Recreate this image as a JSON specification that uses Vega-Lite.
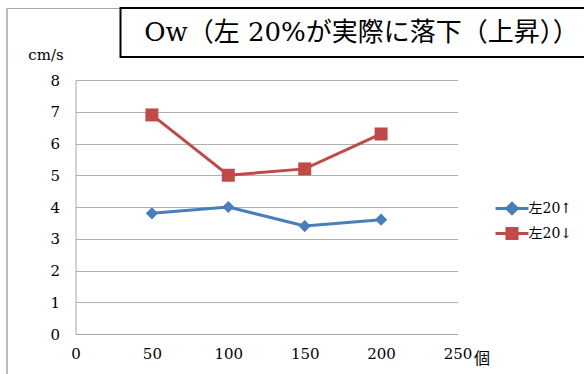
{
  "$schema": "https://vega.github.io/schema/vega-lite/v6.json",
  "padding": {"left": 5.5, "top": 7, "right": -58, "bottom": -5},
  "background": "white",
  "bounds": "flush",
  "spacing": 0,
  "config": {
    "font": "DejaVu Serif, Noto Sans CJK JP",
    "view": {"stroke": null},
    "axis": {
      "labelFont": "DejaVu Serif",
      "labelFontSize": 15,
      "labelColor": "black",
      "labelFlush": false,
      "titleFont": "DejaVu Serif, Noto Sans CJK JP",
      "titleFontWeight": "normal",
      "titleColor": "black",
      "ticks": false,
      "domainColor": "#a6a6a6",
      "gridColor": "#b0b0b0"
    },
    "legend": {"labelFont": "DejaVu Serif, Noto Sans CJK JP"}
  },
  "vconcat": [
    {
      "bounds": "flush",
      "spacing": 0,
      "hconcat": [
        {
          "width": 114,
          "height": 0.01,
          "data": {"values": []},
          "mark": "text",
          "view": {"stroke": "#a6a6a6", "strokeWidth": 1}
        },
        {
          "width": 520,
          "height": 49,
          "view": {"stroke": "black", "strokeWidth": 2},
          "data": {"values": [{"heading": "Ow（左 20%が実際に落下（上昇））"}]},
          "mark": {
            "type": "text",
            "font": "DejaVu Serif, Noto Sans CJK JP",
            "fontSize": 26,
            "baseline": "middle",
            "align": "center",
            "dx": -19,
            "color": "black"
          },
          "encoding": {"text": {"field": "heading"}}
        }
      ]
    },
    {
      "bounds": "flush",
      "spacing": 68,
      "hconcat": [
        {
          "width": 0.01,
          "height": 370,
          "data": {"values": []},
          "mark": "text",
          "view": {"stroke": "#a6a6a6", "strokeWidth": 1}
        },
        {
          "bounds": "flush",
          "spacing": 71,
          "vconcat": [
            {
              "width": 1,
              "height": 1,
              "data": {"values": []},
              "mark": "text"
            },
            {
              "width": 382,
              "height": 254,
              "data": {
                "values": [
                  {"count": 50, "speed": 3.8, "series": "左20↑"},
                  {"count": 100, "speed": 4.0, "series": "左20↑"},
                  {"count": 150, "speed": 3.4, "series": "左20↑"},
                  {"count": 200, "speed": 3.6, "series": "左20↑"},
                  {"count": 50, "speed": 6.9, "series": "左20↓"},
                  {"count": 100, "speed": 5.0, "series": "左20↓"},
                  {"count": 150, "speed": 5.2, "series": "左20↓"},
                  {"count": 200, "speed": 6.3, "series": "左20↓"}
                ]
              },
              "encoding": {
                "x": {
                  "field": "count",
                  "type": "quantitative",
                  "scale": {"domain": [0, 250], "nice": false},
                  "axis": {
                    "values": [0, 50, 100, 150, 200, 250],
                    "grid": false,
                    "labelPadding": 12,
                    "title": "個",
                    "titleFontSize": 16,
                    "titleAlign": "center",
                    "titleBaseline": "middle",
                    "titleX": 406,
                    "titleY": 24
                  }
                },
                "y": {
                  "field": "speed",
                  "type": "quantitative",
                  "scale": {"domain": [0, 8], "nice": false},
                  "axis": {
                    "values": [0, 1, 2, 3, 4, 5, 6, 7, 8],
                    "grid": true,
                    "labelPadding": 16,
                    "title": "cm/s",
                    "titleFontSize": 15,
                    "titleAngle": 0,
                    "titleAlign": "center",
                    "titleBaseline": "middle",
                    "titleX": -30,
                    "titleY": -26
                  }
                },
                "color": {
                  "field": "series",
                  "type": "nominal",
                  "scale": {"domain": ["左20↑", "左20↓"], "range": ["#4a7ebb", "#be4b48"]},
                  "legend": {
                    "title": null,
                    "orient": "none",
                    "legendX": 495,
                    "legendY": 190,
                    "padding": 0,
                    "symbolSize": 324,
                    "symbolOffset": 0,
                    "labelOffset": 6,
                    "rowPadding": 2,
                    "labelFontSize": 14,
                    "labelColor": "black",
                    "encode": {
                      "symbols": {
                        "update": {
                          "shape": {"signal": "datum.value === '左20↑' ? 'M-1.83,0H1.83M0,-0.58L0.58,0L0,0.58L-0.58,0Z' : 'M-1.83,0H1.83M-0.56,-0.56H0.56V0.56H-0.56Z'"},
                          "fill": {"scale": "color", "field": "value"},
                          "stroke": {"scale": "color", "field": "value"},
                          "strokeWidth": {"value": 3},
                          "opacity": {"value": 1},
                          "fillOpacity": {"value": 1}
                        }
                      }
                    }
                  }
                }
              },
              "layer": [
                {"mark": {"type": "line", "strokeWidth": 3}},
                {
                  "mark": {"type": "point", "filled": true, "opacity": 1},
                  "encoding": {
                    "shape": {
                      "condition": {"test": "datum.series === '左20↑'", "value": "diamond"},
                      "value": "square"
                    },
                    "size": {
                      "condition": {"test": "datum.series === '左20↑'", "value": 150},
                      "value": 169
                    }
                  }
                }
              ]
            }
          ]
        }
      ]
    }
  ]
}
